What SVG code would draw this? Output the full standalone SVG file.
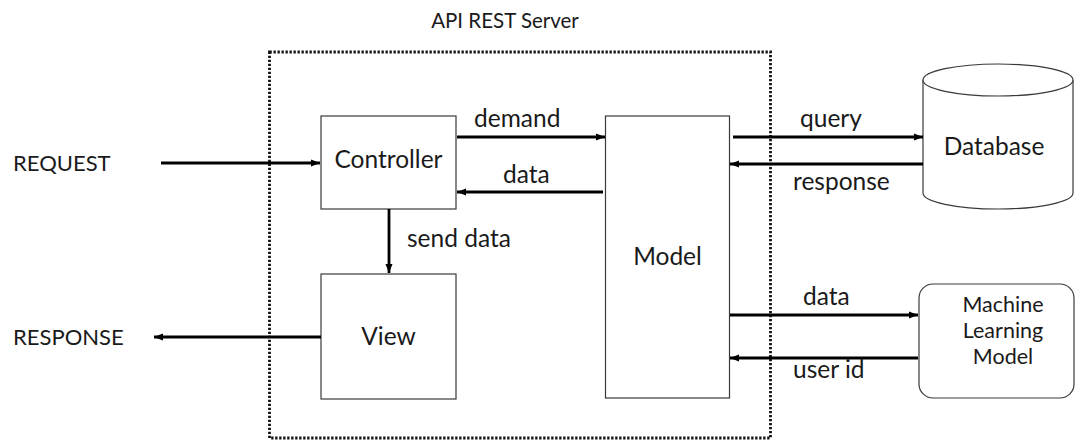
<svg xmlns="http://www.w3.org/2000/svg" width="1076" height="441" viewBox="0 0 1076 441">
  <style>
    text { font-family: Lato, "Liberation Sans", sans-serif; font-size: 24.5px; fill: #1a1a1a; }
    .mid { text-anchor: middle; }
    .title { font-size: 20.5px; }
    .caps { font-size: 22px; }
    .ml { font-size: 21.5px; }
    .box { fill: #ffffff; stroke: #3a3a3a; stroke-width: 1.2; }
    .frame { fill: none; stroke: #111; stroke-width: 2.8; stroke-dasharray: 2.3 1.7; }
    .flow { fill: none; stroke: #000; stroke-width: 2.8; marker-end: url(#head); }
  </style>
  <defs>
    <marker id="head" markerUnits="userSpaceOnUse" markerWidth="10" markerHeight="8" refX="9" refY="4" orient="auto">
      <path d="M0,0.5 L9,4 L0,7.5 z" fill="#000"/>
    </marker>
  </defs>

  <rect width="1076" height="441" fill="#ffffff"/>

  <!-- server boundary -->
  <g id="server">
    <rect class="frame" x="269.5" y="52" width="501" height="386"/>
    <text class="mid title" x="505" y="28">API REST Server</text>
  </g>

  <g id="request-label"><text class="caps" x="13" y="171">REQUEST</text></g>
  <g id="response-label"><text class="caps" x="13" y="345">RESPONSE</text></g>

  <g id="controller">
    <rect class="box" x="321" y="116" width="135" height="93"/>
    <text class="mid" x="388.5" y="168">Controller</text>
  </g>

  <g id="view">
    <rect class="box" x="321" y="274" width="135" height="125"/>
    <text class="mid" x="388.5" y="345">View</text>
  </g>

  <g id="model">
    <rect class="box" x="605.5" y="116" width="124" height="282"/>
    <text class="mid" x="667.5" y="265">Model</text>
  </g>

  <g id="database">
    <path class="box" d="M923,80 L923,193 A75,16 0 0 0 1073,193 L1073,80"/>
    <ellipse class="box" cx="998" cy="80" rx="75" ry="16"/>
    <text class="mid" x="994" y="155">Database</text>
  </g>

  <g id="ml-model">
    <rect class="box" x="919" y="284" width="155" height="114" rx="14" ry="14"/>
    <text class="mid ml" x="1003" y="312">Machine</text>
    <text class="mid ml" x="1003" y="338">Learning</text>
    <text class="mid ml" x="1003" y="364">Model</text>
  </g>

  <!-- connectors -->
  <g id="connectors">
    <line class="flow" x1="161" y1="163" x2="320" y2="163"/>
    <line class="flow" x1="321" y1="337" x2="154" y2="337"/>
    <line class="flow" x1="457" y1="137" x2="605" y2="137"/>
    <line class="flow" x1="603" y1="192" x2="457" y2="192"/>
    <line class="flow" x1="389" y1="209" x2="389" y2="273"/>
    <line class="flow" x1="733" y1="137" x2="923" y2="137"/>
    <line class="flow" x1="923" y1="164" x2="730" y2="164"/>
    <line class="flow" x1="730" y1="315" x2="918" y2="315"/>
    <line class="flow" x1="918" y1="358" x2="730" y2="358"/>

    <text x="474" y="127">demand</text>
    <text x="503" y="183">data</text>
    <text x="407" y="247">send data</text>
    <text x="800" y="127">query</text>
    <text x="793" y="190">response</text>
    <text x="803" y="305">data</text>
    <text x="793" y="378">user id</text>
  </g>
</svg>
